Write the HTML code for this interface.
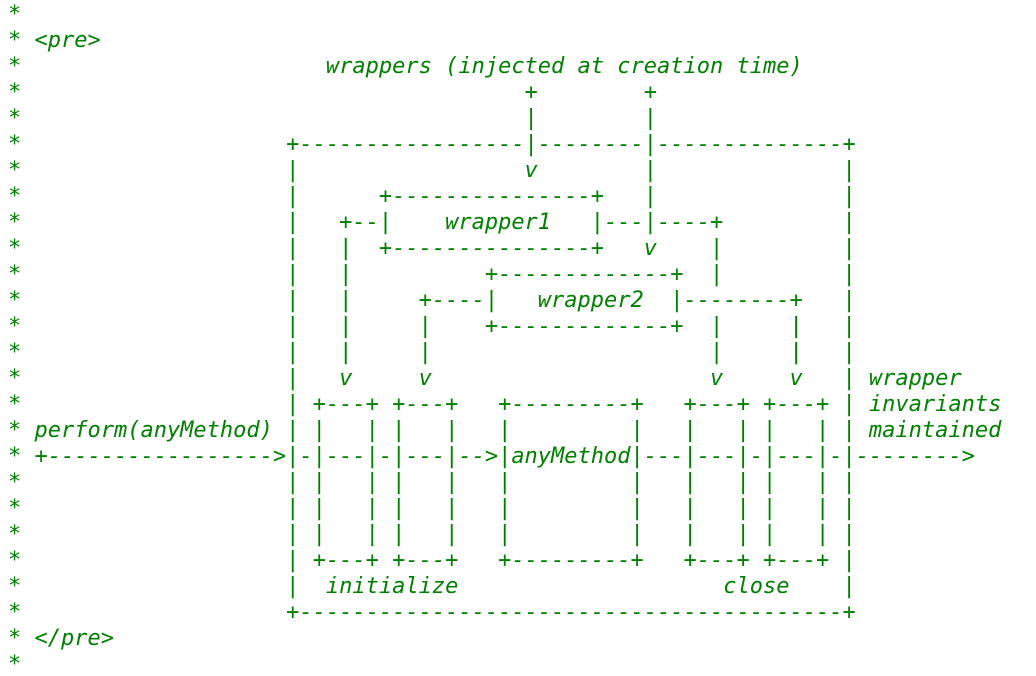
<!DOCTYPE html>
<html>
<head>
<meta charset="utf-8">
<style>
html,body{margin:0;padding:0;background:#fff;width:1036px;height:676px;overflow:hidden;}
pre{
  margin:0;
  padding:2px 0 0 8px;
  font-family:"DejaVu Sans Mono","Liberation Mono",monospace;
  font-style:italic;
  font-size:22px;
  line-height:26px;
  color:#008000;
  white-space:pre;
}
</style>
</head>
<body>
<pre>*
* &lt;pre&gt;
*                       wrappers (injected at creation time)
*                                      +        +
*                                      |        |
*                    +-----------------|--------|--------------+
*                    |                 v        |              |
*                    |      +---------------+   |              |
*                    |   +--|    wrapper1   |---|----+         |
*                    |   |  +---------------+   v    |         |
*                    |   |          +-------------+  |         |
*                    |   |     +----|   wrapper2  |--------+   |
*                    |   |     |    +-------------+  |     |   |
*                    |   |     |                     |     |   |
*                    |   v     v                     v     v   | wrapper
*                    | +---+ +---+   +---------+   +---+ +---+ | invariants
* perform(anyMethod) | |   | |   |   |         |   |   | |   | | maintained
* +----------------->|-|---|-|---|-->|anyMethod|---|---|-|---|-|--------&gt;
*                    | |   | |   |   |         |   |   | |   | |
*                    | |   | |   |   |         |   |   | |   | |
*                    | |   | |   |   |         |   |   | |   | |
*                    | +---+ +---+   +---------+   +---+ +---+ |
*                    |  initialize                    close    |
*                    +-----------------------------------------+
* &lt;/pre&gt;
*</pre>
</body>
</html>
